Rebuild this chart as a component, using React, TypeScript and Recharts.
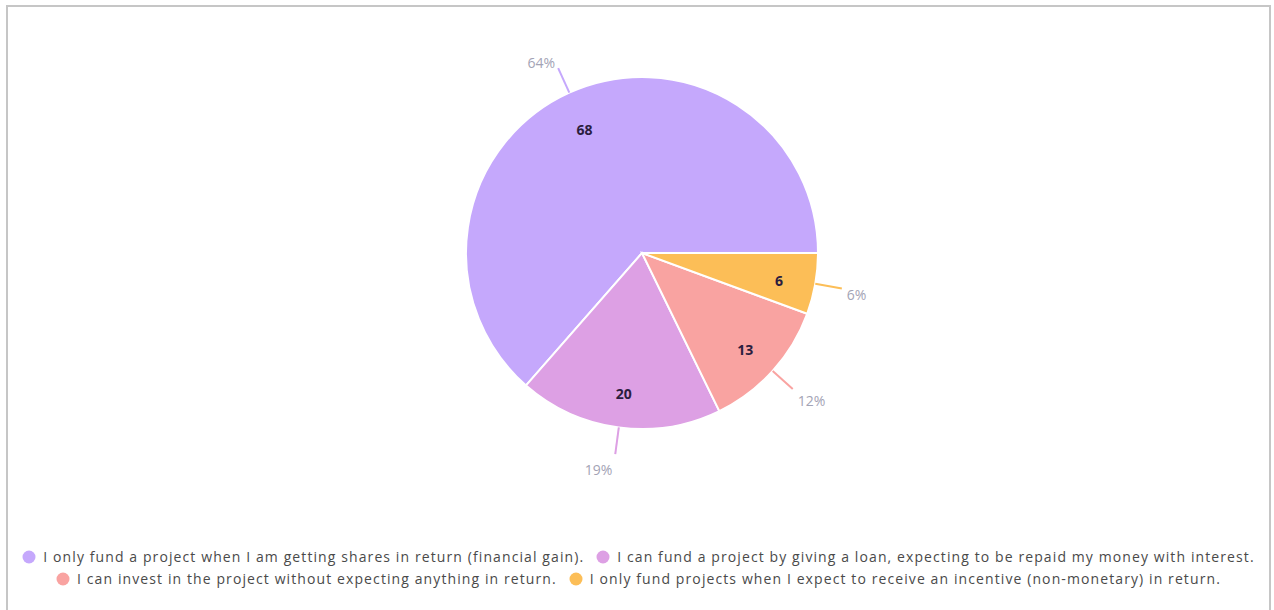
import { Legend, Pie, PieChart, Cell } from 'recharts';

const answers = [
  'I only fund a project when I am getting shares in return (financial gain).',
  'I can fund a project by giving a loan, expecting to be repaid my money with interest.',
  'I can invest in the project without expecting anything in return.',
  'I only fund projects when I expect to receive an incentive (non-monetary) in return.',
];
const counts = [68, 20, 13, 6];
const colors = ['#c5a8fc', '#dda0e4', '#f9a3a1', '#fcbe57'];

const data = answers.map((name, i) => ({ name, value: counts[i] }));

const RAD = Math.PI / 180;
const FONT = 'Open Sans, Liberation Sans, Arial, sans-serif';

function renderLabel(props: any) {
  const { cx, cy, midAngle, outerRadius, percent, value, fill } = props;
  const c = Math.cos(-midAngle * RAD);
  const s = Math.sin(-midAngle * RAD);
  const ir = outerRadius * 0.79;
  const sx = cx + outerRadius * c;
  const sy = cy + outerRadius * s;
  const ex = cx + (outerRadius + 27) * c;
  const ey = cy + (outerRadius + 27) * s;
  const right = c >= 0;
  return (
    <g>
      <text
        x={cx + ir * c}
        y={cy + ir * s + 3}
        textAnchor="middle"
        dominantBaseline="central"
        fill="#2b1d3f"
        fontSize={14}
        fontWeight="bold"
        fontFamily={FONT}
      >
        {value}
      </text>
      <line x1={sx} y1={sy} x2={ex} y2={ey} stroke={fill} strokeWidth={2} />
      <text
        x={ex + (right ? 5 : -3)}
        y={ey + 4 + 11 * s}
        textAnchor={right ? 'start' : 'end'}
        dominantBaseline="central"
        fill="#a3a3b5"
        fontSize={14}
        fontFamily={FONT}
      >
        {`${Math.round(percent * 100)}%`}
      </text>
    </g>
  );
}

function LegendRows() {
  return (
    <div
      style={{
        display: 'flex',
        flexWrap: 'wrap',
        justifyContent: 'center',
        columnGap: 12,
        rowGap: 3,
        fontFamily: FONT,
        fontSize: 14,
        letterSpacing: 1.1,
        color: '#4a4a4a',
        padding: '0 4px',
      }}
    >
      {data.map((d, i) => (
        <span key={d.name} style={{ display: 'inline-flex', alignItems: 'center', whiteSpace: 'nowrap' }}>
          <svg width={14} height={14} style={{ marginRight: 7 }}>
            <circle cx={7} cy={7} r={6.5} fill={colors[i]} />
          </svg>
          {d.name}
        </span>
      ))}
    </div>
  );
}

export default function App() {
  return (
    <div
      style={{
        position: 'absolute',
        left: 6,
        top: 5,
        width: 1265,
        height: 620,
        border: '2px solid #c6c6c6',
        borderBottom: 'none',
        background: '#fff',
        boxSizing: 'border-box',
      }}
    >
      <PieChart width={1261} height={605}>
        <Pie
          data={data}
          dataKey="value"
          nameKey="name"
          cx={629}
          cy={241}
          outerRadius={176}
          startAngle={0}
          endAngle={360}
          stroke="#fff"
          strokeWidth={2}
          label={renderLabel}
          labelLine={false}
          isAnimationActive={false}
        >
          {data.map((d, i) => (
            <Cell key={d.name} fill={colors[i]} />
          ))}
        </Pie>
        <Legend content={<LegendRows />} wrapperStyle={{ top: 540, left: 0, width: 1261 }} />
      </PieChart>
    </div>
  );
}
